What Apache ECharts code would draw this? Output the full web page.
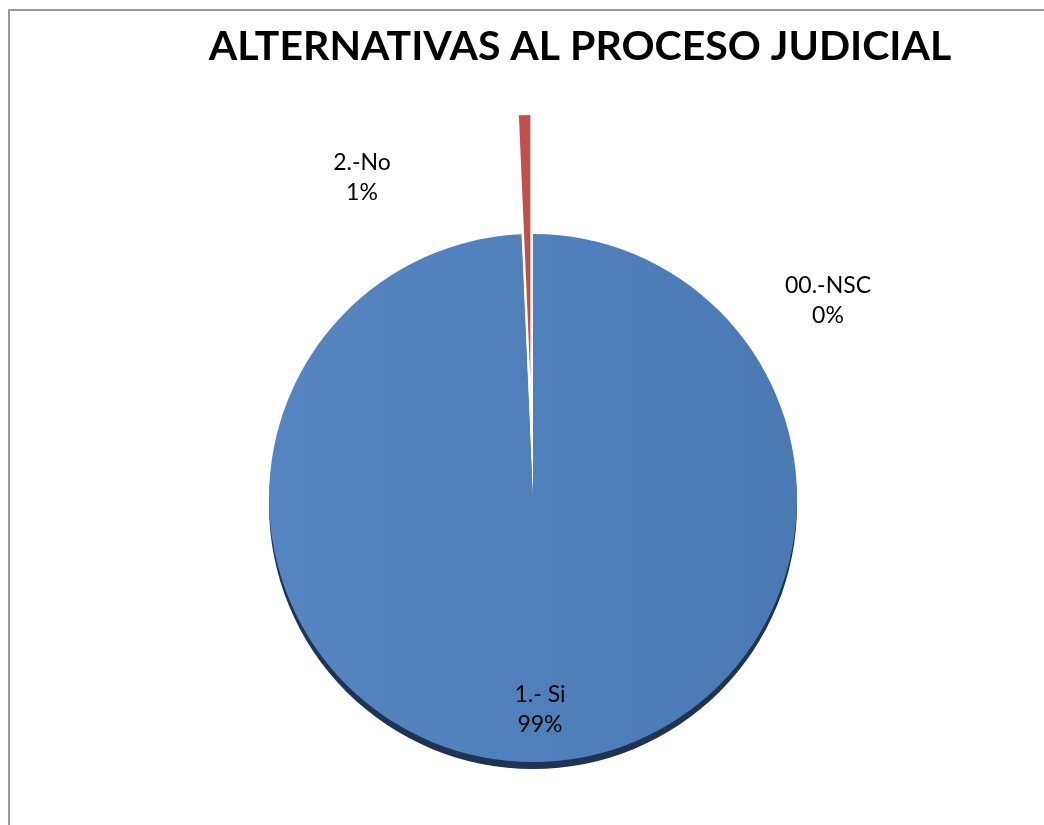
<!DOCTYPE html>
<html>
<head>
<meta charset="utf-8">
<script src="https://cdn.jsdelivr.net/npm/echarts@6/dist/echarts.min.js"></script>
<style>
  html, body { margin: 0; padding: 0; background: #fff; }
  #frame { position: absolute; left: 8px; top: 9px; width: 1100px; height: 900px; border-left: 2px solid #9a9a9a; border-top: 2px solid #9a9a9a; }
  #chart { position: absolute; left: 0; top: 0; width: 1044px; height: 825px; }
</style>
</head>
<body>
<div id="frame"></div>
<div id="chart"></div>
<script>
// datos
var titulo = 'ALTERNATIVAS AL PROCESO JUDICIAL';
var categorias = ['00.-NSC', '1.- Si', '2.-No'];
var valores = [0, 143, 1];
var colores = ['#4f81bd', '#4f81bd', '#c0504d'];
var destacada = '2.-No';   // porcion separada

var chart = echarts.init(document.getElementById('chart'));

// donde van las etiquetas
var posEtiqueta = {
  '00.-NSC': [828, 301],
  '1.- Si': [540, 710],
  '2.-No': [362, 178]
};

var centro = [533, 498];
var radio = 264;
var separacion = 119;

var azul = new echarts.graphic.LinearGradient(0, 0, 1, 0, [
  { offset: 0, color: '#5586c1' },
  { offset: 1, color: '#497ab4' }
]);

function etiqueta(p) {
  return p.name + '\n' + Math.round(p.percent) + '%';
}

var estiloEtiqueta = {
  show: true,
  color: '#000',
  fontFamily: 'Lato',
  fontSize: 23,
  lineHeight: 30,
  align: 'center',
  formatter: etiqueta
};

// serie principal: todo menos la porcion separada
var datosBase = categorias.map(function (c, i) {
  var d = { name: c, value: valores[i], itemStyle: { color: colores[i] } };
  if (c === '1.- Si') {
    d.itemStyle = { color: azul, shadowColor: '#1f3352', shadowBlur: 0, shadowOffsetY: 7 };
  }
  if (c === destacada) {
    d.itemStyle = { color: 'rgba(0,0,0,0)' };
    d.label = { show: false };
  }
  return d;
});

// serie de la porcion separada
var datosSep = categorias.map(function (c, i) {
  var d = { name: c, value: valores[i], itemStyle: { color: colores[i] } };
  if (c !== destacada) {
    d.itemStyle = { color: 'rgba(0,0,0,0)' };
    d.label = { show: false };
  }
  return d;
});

function ubicar(p) {
  var xy = posEtiqueta[categorias[p.dataIndex]];
  return { x: xy[0], y: xy[1], align: 'center', verticalAlign: 'middle' };
}

// desplazamiento de la porcion separada segun su angulo medio
var total = valores.reduce(function (a, b) { return a + b; }, 0);
var antes = 0;
for (var k = 0; k < categorias.indexOf(destacada); k++) antes += valores[k];
var angMedio = Math.PI / 2 - (antes + valores[categorias.indexOf(destacada)] / 2) / total * Math.PI * 2;
var centroSep = [centro[0] + Math.cos(angMedio) * separacion, centro[1] - Math.sin(angMedio) * separacion];

var comun = {
  type: 'pie',
  radius: radio,
  startAngle: 90,
  clockwise: true,
  avoidLabelOverlap: false,
  emphasis: { disabled: true },
  silent: true,
  label: estiloEtiqueta,
  labelLine: { show: false },
  labelLayout: ubicar
};

chart.setOption({
  animation: false,
  title: {
    text: titulo,
    left: 575,
    top: 21,
    textAlign: 'center',
    textStyle: { fontFamily: 'Lato', fontWeight: 'bold', fontSize: 41, color: '#000' }
  },
  series: [
    Object.assign({}, comun, { center: centro, data: datosBase }),
    Object.assign({}, comun, { center: centroSep, data: datosSep })
  ]
});
</script>
</body>
</html>
